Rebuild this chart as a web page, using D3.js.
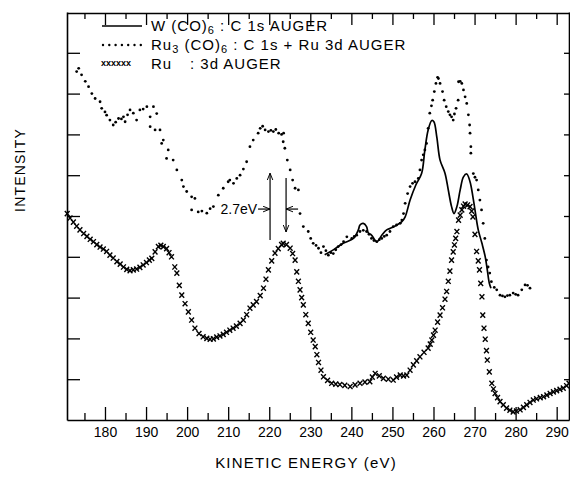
<!DOCTYPE html>
<html><head><meta charset="utf-8">
<script src="https://cdn.jsdelivr.net/npm/d3@7"></script>
<style>
body{margin:0;background:#fff;}
svg{display:block;}
text{font-family:"Liberation Sans",Arial,sans-serif;fill:#000;}
</style></head>
<body>
<svg id="chart" width="570" height="494"></svg>
<script>
// ---------- data ----------
const xMajorTicks = [180,190,200,210,220,230,240,250,260,270,280,290];
const xMinorTicks = [175,185,195,205,215,225,235,245,255,265,275,285];
const yTicks = [1,2,3,4,5,6,7,8,9];

// Ru : 3d AUGER (x markers)
const ruE = [170.8,171.5,172.3,173.1,173.9,174.8,175.6,176.4,177.2,178.0,178.8,179.6,180.4,181.2,182.0,182.9,183.7,184.5,185.3,186.1,186.9,187.7,188.5,189.3,190.1,190.8,191.4,192.2,193.0,193.6,194.2,195.0,195.6,196.2,197.0,197.5,198.1,198.7,199.5,200.3,201.1,201.9,202.9,203.9,204.8,205.6,206.4,207.2,208.0,208.8,209.6,210.4,211.2,212.0,212.9,213.7,214.5,215.3,216.1,216.9,217.8,218.6,219.2,219.8,220.6,221.4,222.2,223.0,223.4,224.2,225.1,225.7,226.3,226.7,227.1,227.5,227.9,228.3,228.9,229.5,230.1,230.7,231.2,231.6,232.0,232.6,233.2,234.2,235.2,236.2,237.2,238.4,239.7,240.9,242.1,243.3,244.5,245.1,245.8,246.8,247.8,249.0,250.2,251.0,251.9,252.7,253.5,254.3,255.1,255.9,256.7,257.7,258.7,259.2,259.6,260.0,260.4,261.0,261.6,262.2,262.8,263.2,263.6,264.0,264.4,264.8,265.1,265.4,265.7,266.1,266.5,266.9,267.3,267.7,268.3,268.9,269.3,269.6,270.1,270.5,270.9,271.2,271.5,271.8,272.0,272.3,272.6,272.9,273.1,273.6,274.2,274.6,275.0,275.6,276.2,277.0,277.8,278.6,279.4,280.2,281.1,281.9,282.7,283.5,284.3,285.1,286.0,286.8,287.6,288.4,289.2,290.0,290.8,291.6,292.4,293.0];
const ruI = [5.06,4.95,4.85,4.75,4.66,4.57,4.50,4.43,4.37,4.30,4.24,4.19,4.13,4.04,3.97,3.88,3.82,3.75,3.69,3.66,3.68,3.70,3.74,3.80,3.86,3.92,3.96,4.12,4.25,4.28,4.25,4.20,4.10,4.00,3.75,3.60,3.30,3.06,2.85,2.65,2.45,2.25,2.12,2.04,2.00,1.98,1.99,2.03,2.06,2.10,2.15,2.20,2.25,2.30,2.37,2.45,2.58,2.74,2.82,2.90,3.05,3.23,3.45,3.68,3.90,4.09,4.20,4.30,4.33,4.30,4.21,4.08,3.92,3.63,3.40,3.19,3.00,2.82,2.58,2.37,2.15,1.96,1.80,1.60,1.41,1.22,1.06,0.97,0.90,0.88,0.87,0.85,0.82,0.86,0.90,0.93,0.94,1.05,1.14,1.08,1.02,1.00,0.98,1.05,1.10,1.08,1.10,1.22,1.35,1.45,1.55,1.66,1.76,1.86,1.96,2.08,2.20,2.40,2.57,2.75,2.96,3.15,3.40,3.65,3.92,4.12,4.29,4.45,4.62,4.90,5.02,5.15,5.24,5.29,5.27,5.23,5.12,4.98,4.55,4.13,3.90,3.68,3.35,3.02,2.57,2.25,1.98,1.70,1.47,1.18,0.90,0.76,0.65,0.55,0.45,0.37,0.29,0.24,0.20,0.22,0.25,0.31,0.37,0.43,0.49,0.52,0.55,0.57,0.61,0.65,0.69,0.72,0.75,0.78,0.84,0.90];

// Ru3(CO)6 : C 1s + Ru 3d AUGER (dots)
const ru3E = [173.1,173.6,174.3,175.2,176.0,176.8,177.6,178.8,179.2,180.0,180.4,181.2,182.0,182.6,183.3,184.0,184.5,184.9,185.5,186.1,186.9,187.7,188.5,189.3,190.2,191.0,191.8,192.6,191.0,192.2,193.4,193.8,194.2,195.0,195.4,196.6,197.5,198.7,199.1,199.9,201.1,201.9,201.1,202.7,203.6,204.8,205.6,206.4,207.6,208.8,210.0,210.4,211.3,212.1,212.9,213.7,214.5,215.3,216.1,217.3,217.8,218.4,219.0,219.8,220.4,221.0,221.6,222.3,223.0,223.5,223.4,223.8,224.4,225.1,225.7,226.3,227.1,227.5,228.3,229.5,230.1,230.7,231.4,232.0,232.6,233.2,233.8,234.4,235.0,235.6,236.2,236.8,237.5,238.1,238.9,240.1,240.7,241.3,242.1,242.9,243.7,244.3,244.9,245.5,246.2,246.8,247.4,248.0,248.6,249.4,250.2,251.0,251.9,252.3,252.7,253.1,253.7,254.3,254.9,255.5,256.3,256.7,257.1,257.5,257.9,258.3,258.7,259.1,259.5,259.8,260.2,260.6,261.0,261.2,261.6,262.2,262.6,263.1,263.6,264.0,264.4,264.8,265.1,265.5,266.0,266.1,266.5,266.9,267.3,267.7,268.1,268.5,268.8,268.9,269.1,269.1,269.7,270.1,270.5,270.9,271.3,271.7,272.1,272.5,272.9,273.3,273.7,274.1,274.8,275.4,276.2,276.8,277.4,278.0,278.6,279.4,280.0,280.6,281.5,282.3,282.9,283.5];
const ru3I = [8.54,8.62,8.46,8.30,8.17,8.00,7.88,7.80,7.64,7.55,7.47,7.35,7.23,7.30,7.39,7.38,7.43,7.31,7.48,7.60,7.52,7.35,7.60,7.62,7.68,7.43,7.68,7.51,7.19,7.11,7.11,6.78,6.86,6.41,6.62,6.37,6.13,5.88,5.72,5.60,5.47,5.43,5.15,5.10,5.12,5.07,5.18,5.23,5.51,5.68,5.84,5.88,5.80,5.92,6.00,6.15,6.33,6.70,6.86,7.03,7.15,7.20,7.11,7.07,7.10,7.07,7.12,7.03,7.00,7.03,6.82,6.66,6.37,6.13,5.88,5.68,5.64,5.06,4.74,4.62,4.45,4.33,4.28,4.21,4.10,4.25,4.15,4.04,4.10,4.08,4.17,4.25,4.30,4.37,4.49,4.45,4.50,4.53,4.62,4.65,4.62,4.55,4.45,4.40,4.37,4.42,4.45,4.50,4.53,4.62,4.74,4.78,4.82,4.90,5.06,5.31,5.55,5.72,5.80,5.84,5.92,6.13,6.37,6.50,6.62,6.78,7.15,7.52,7.70,7.84,8.05,8.25,8.40,8.37,8.25,8.05,7.84,7.68,7.56,7.48,7.43,7.35,7.50,7.64,7.84,8.29,8.30,8.25,8.09,7.92,7.76,7.48,7.23,7.03,6.70,6.54,6.04,5.95,5.88,5.64,5.39,5.15,4.82,4.45,3.92,3.75,3.60,3.39,3.25,3.19,3.06,3.04,3.02,3.05,3.06,3.11,3.08,3.06,3.19,3.31,3.30,3.23];

// W(CO)6 : C 1s AUGER (solid line)
const wE = [233.5,235.6,238.0,240.5,241.7,242.1,242.9,243.7,244.1,244.9,246.2,247.4,248.6,249.8,251.1,252.3,253.1,254.3,255.7,257.1,257.9,258.7,259.6,260.1,260.8,261.6,262.8,263.6,264.4,265.0,265.7,266.5,267.3,268.1,268.9,269.6,270.1,270.9,271.8,272.6,273.1,273.6,274.0];
const wI = [4.05,4.17,4.33,4.45,4.66,4.78,4.82,4.74,4.59,4.53,4.37,4.53,4.66,4.71,4.78,4.86,4.98,5.39,5.76,6.04,6.62,7.11,7.34,7.31,6.94,6.37,6.05,5.64,5.23,5.06,5.23,5.64,5.96,6.03,5.84,5.47,5.15,4.66,4.33,4.00,3.68,3.35,3.23];

// 2.7 eV annotation (energies of the two arrows, intensities of ends)
const arrowUp = {e:220.2, from:4.41, to:6.05};
const arrowDown = {e:224.1, from:5.93, to:4.61};
const arrowLevel = 5.17;

// ---------- drawing ----------
const svg = d3.select("#chart");
const x = d3.scaleLinear().domain([170.75, 293.0]).range([67, 569]);
const y = d3.scaleLinear().domain([0, 10]).range([420, 12]);

const defs = svg.append("defs");
defs.append("marker").attr("id","ah").attr("viewBox","0 0 10 10")
  .attr("refX",10).attr("refY",5).attr("markerWidth",7).attr("markerHeight",7)
  .attr("orient","auto-start-reverse").attr("markerUnits","userSpaceOnUse")
  .append("path").attr("d","M0,1 L10,5 L0,9").attr("fill","none").attr("stroke","#000").attr("stroke-width",1.4);

function styleAxis(g){
  g.selectAll("path.domain").attr("stroke","#000").attr("stroke-width",1.6);
  g.selectAll(".tick line").attr("stroke","#000").attr("stroke-width",1.3);
}
// bottom
const gB = svg.append("g").attr("transform","translate(0,420)")
  .call(d3.axisBottom(x).tickValues(xMajorTicks).tickSizeInner(-13).tickSizeOuter(0).tickPadding(7).tickFormat(d3.format("d")));
gB.selectAll("text").attr("font-size",14).style("font-family","Liberation Sans, Arial, sans-serif");
styleAxis(gB);
const gBm = svg.append("g").attr("transform","translate(0,420)")
  .call(d3.axisBottom(x).tickValues(xMinorTicks).tickSizeInner(-7).tickSizeOuter(0).tickFormat(""));
gBm.select("path.domain").remove(); styleAxis(gBm);
// top
const gT = svg.append("g").attr("transform","translate(0,13)")
  .call(d3.axisTop(x).tickValues(xMajorTicks).tickSizeInner(-12).tickSizeOuter(0).tickFormat(""));
styleAxis(gT);
const gTm = svg.append("g").attr("transform","translate(0,13)")
  .call(d3.axisTop(x).tickValues(xMinorTicks).tickSizeInner(-6).tickSizeOuter(0).tickFormat(""));
gTm.select("path.domain").remove(); styleAxis(gTm);
// left
const gL = svg.append("g").attr("transform","translate(67,0)")
  .call(d3.axisLeft(y).tickValues(yTicks).tickSizeInner(-13).tickSizeOuter(0).tickFormat(""));
styleAxis(gL);
// right
const gR = svg.append("g").attr("transform","translate(569,0)")
  .call(d3.axisRight(y).tickValues(yTicks).tickSizeInner(-5).tickSizeOuter(0).tickFormat(""));
styleAxis(gR);

// W(CO)6 solid line
const wData = wE.map((e,i)=>[e,wI[i]]);
svg.append("path").datum(wData)
  .attr("d", d3.line().x(d=>x(d[0])).y(d=>y(d[1])).curve(d3.curveCatmullRom.alpha(0.5)))
  .attr("fill","none").attr("stroke","#000").attr("stroke-width",1.7);

// Ru3(CO)6 dots
svg.append("g").selectAll("circle").data(ru3E.map((e,i)=>[e,ru3I[i]])).join("circle")
  .attr("cx",d=>x(d[0])).attr("cy",d=>y(d[1])).attr("r",1.4).attr("fill","#000");

// Ru x markers
svg.append("g").selectAll("path").data(ruE.map((e,i)=>[e,ruI[i]])).join("path")
  .attr("transform",d=>`translate(${x(d[0])},${y(d[1])})`)
  .attr("d","M-2.4,-2.6L2.4,2.6M-2.4,2.6L2.4,-2.6")
  .attr("stroke","#000").attr("stroke-width",1.4).attr("fill","none");

// annotation
const ann = svg.append("g").attr("stroke","#000").attr("stroke-width",1.2).attr("fill","none");
ann.append("line").attr("x1",x(arrowUp.e)).attr("x2",x(arrowUp.e)).attr("y1",y(arrowUp.from)).attr("y2",y(arrowUp.to)).attr("marker-end","url(#ah)");
ann.append("line").attr("x1",x(arrowDown.e)).attr("x2",x(arrowDown.e)).attr("y1",y(arrowDown.from)).attr("y2",y(arrowDown.to)).attr("marker-end","url(#ah)");
ann.append("line").attr("x1",x(arrowUp.e)-12).attr("x2",x(arrowUp.e)).attr("y1",y(arrowLevel)).attr("y2",y(arrowLevel)).attr("marker-end","url(#ah)");
ann.append("line").attr("x1",x(arrowDown.e)+12).attr("x2",x(arrowDown.e)).attr("y1",y(arrowLevel)).attr("y2",y(arrowLevel)).attr("marker-end","url(#ah)");
svg.append("text").attr("x",x(arrowUp.e)-13).attr("y",y(arrowLevel)+5).attr("text-anchor","end")
  .attr("font-size",14).text("2.7eV");

// legend
const lg = svg.append("g");
lg.append("line").attr("x1",102).attr("x2",142).attr("y1",26).attr("y2",26).attr("stroke","#000").attr("stroke-width",1.7);
lg.append("g").selectAll("circle").data(d3.range(7)).join("circle")
  .attr("cx",d=>103+d*6.3).attr("cy",45).attr("r",1.2).attr("fill","#000");
lg.append("text").attr("x",101).attr("y",66).attr("font-size",9).attr("font-weight","bold").text("xxxxxx");

const legendFont = 15, legendSpacing = 1;
const t1 = lg.append("text").attr("x",151).attr("y",31).attr("font-size",legendFont).attr("letter-spacing",legendSpacing);
t1.append("tspan").text("W (CO)");
t1.append("tspan").attr("font-size",11).attr("dy",3).text("6");
t1.append("tspan").attr("dy",-3).text(" : C 1s  AUGER");

const t2 = lg.append("text").attr("x",151).attr("y",50).attr("font-size",legendFont).attr("letter-spacing",legendSpacing);
t2.append("tspan").text("Ru");
t2.append("tspan").attr("font-size",11).attr("dy",3).text("3");
t2.append("tspan").attr("dy",-3).text(" (CO)");
t2.append("tspan").attr("font-size",11).attr("dy",3).text("6");
t2.append("tspan").attr("dy",-3).text(" : C 1s + Ru  3d AUGER");

lg.append("text").attr("x",151).attr("y",69).attr("font-size",legendFont).attr("letter-spacing",legendSpacing).text("Ru");
lg.append("text").attr("x",190).attr("y",69).attr("font-size",legendFont).attr("letter-spacing",legendSpacing).text(":  3d AUGER");

// axis titles
svg.append("text").attr("transform","translate(25,170) rotate(-90)").attr("text-anchor","middle")
  .attr("font-size",14).attr("letter-spacing",1.2).text("INTENSITY");
svg.append("text").attr("x",306).attr("y",468).attr("text-anchor","middle")
  .attr("font-size",15).attr("letter-spacing",1.2).text("KINETIC ENERGY (eV)");
</script>
</body></html>
